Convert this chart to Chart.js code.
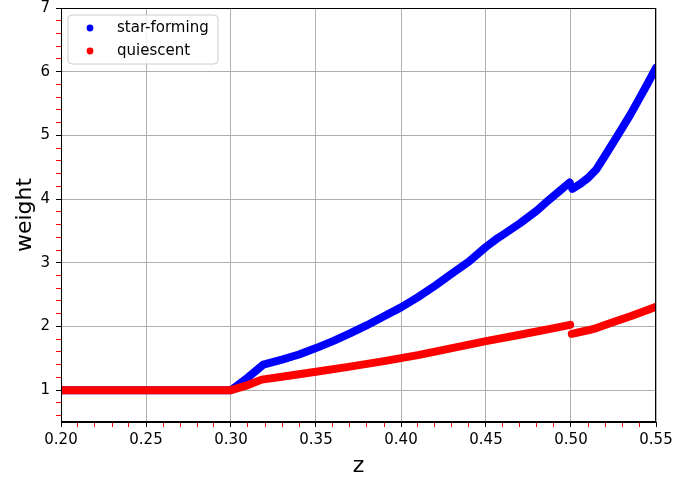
<!DOCTYPE html>
<html>
<head>
<meta charset="utf-8">
<script src="https://cdn.jsdelivr.net/npm/chart.js@4.4.1/dist/chart.umd.min.js"></script>
<style>
  html, body { margin: 0; padding: 0; background: #fff; }
  #wrap { width: 673px; height: 479px; }
</style>
</head>
<body>
<div id="wrap"><canvas id="weights" width="673" height="479"></canvas></div>
<script>
// valeurs
const zStar = [0.20, 0.25, 0.30, 0.31, 0.319, 0.33, 0.34, 0.35, 0.36, 0.37, 0.38, 0.39, 0.40, 0.41, 0.42, 0.43, 0.44, 0.45, 0.456, 0.46, 0.47, 0.48, 0.4876, 0.4992, 0.50, 0.5008, 0.505, 0.51, 0.515, 0.52, 0.527, 0.535, 0.54, 0.545, 0.55];
const wStar = [1.0, 1.0, 1.0, 1.2, 1.40, 1.48, 1.56, 1.66, 1.77, 1.89, 2.02, 2.16, 2.30, 2.46, 2.64, 2.83, 3.02, 3.25, 3.37, 3.44, 3.62, 3.82, 4.0, 4.26, null, 4.16, 4.23, 4.33, 4.47, 4.68, 4.98, 5.33, 5.57, 5.81, 6.06];

const zQuiet = [0.20, 0.25, 0.30, 0.31, 0.318, 0.33, 0.35, 0.37, 0.39, 0.41, 0.43, 0.45, 0.47, 0.49, 0.4995, 0.50, 0.5005, 0.51, 0.515, 0.525, 0.535, 0.545, 0.55];
const wQuiet = [1.0, 1.0, 1.0, 1.08, 1.165, 1.21, 1.29, 1.37, 1.455, 1.55, 1.66, 1.77, 1.87, 1.975, 2.025, null, 1.885, 1.94, 1.975, 2.07, 2.16, 2.26, 2.31];

const xTicks = []; // 0.20 ... 0.55 pas 0.01
for (let i = 20; i <= 55; i++) xTicks.push(i / 100);
const yTicks = []; // 0.6 ... 7.0 pas 0.2
for (let i = 3; i <= 35; i++) yTicks.push(i / 5);

const FONT = 'DejaVu Sans';

function pts(zs, ws) {
    return zs.map((z, i) => ({ x: z, y: ws[i] }));
}

function isMajor(v, step) {
    const r = v / step;
    return Math.abs(r - Math.round(r)) < 1e-6;
}

// cadre noir autour des axes
const frame = {
    id: 'frame',
    afterDatasetsDraw(chart) {
        const c = chart.ctx, a = chart.chartArea;
        c.save();
        c.strokeStyle = '#000';
        c.lineWidth = 1;
        c.strokeRect(Math.round(a.left) + 0.5, Math.round(a.top) + 0.5,
            Math.round(a.right - a.left) - 1, Math.round(a.bottom - a.top) - 1);
        c.restore();
    }
};

// légende dans le coin haut gauche
const legendBox = {
    id: 'legendBox',
    afterDraw(chart) {
        const c = chart.ctx, a = chart.chartArea;
        const x = a.left + 7, y = a.top + 7, w = 150, h = 49, r = 4;
        c.save();
        c.beginPath();
        c.moveTo(x + r, y);
        c.arcTo(x + w, y, x + w, y + h, r);
        c.arcTo(x + w, y + h, x, y + h, r);
        c.arcTo(x, y + h, x, y, r);
        c.arcTo(x, y, x + w, y, r);
        c.closePath();
        c.fillStyle = 'rgba(255,255,255,0.8)';
        c.fill();
        c.strokeStyle = '#cccccc';
        c.lineWidth = 1;
        c.stroke();
        c.font = '15px "' + FONT + '"';
        c.textBaseline = 'middle';
        chart.data.datasets.forEach((ds, i) => {
            const cy = y + 13 + i * 23;
            c.fillStyle = ds.borderColor;
            c.beginPath();
            c.arc(x + 22, cy, 3.4, 0, Math.PI * 2);
            c.fill();
            c.fillStyle = '#000';
            c.fillText(ds.label, x + 49, cy);
        });
        c.restore();
    }
};

const ctx = document.getElementById('weights').getContext('2d');
new Chart(ctx, {
    type: 'line',
    data: {
        datasets: [
            {
                label: 'star-forming',
                data: pts(zStar, wStar),
                borderColor: '#0000ff',
                order: 1
            },
            {
                label: 'quiescent',
                data: pts(zQuiet, wQuiet),
                borderColor: '#ff0000',
                order: 0
            }
        ]
    },
    options: {
        responsive: false,
        animation: false,
        devicePixelRatio: 1,
        layout: { padding: { top: 8, right: 17, bottom: 0, left: 0 } },
        elements: {
            line: { borderWidth: 8, tension: 0, borderCapStyle: 'round', borderJoinStyle: 'round', fill: false },
            point: { radius: 0, hoverRadius: 0 }
        },
        datasets: { line: { spanGaps: false, clip: 0 } },
        plugins: {
            legend: { display: false },
            tooltip: { enabled: false }
        },
        scales: {
            x: {
                type: 'linear',
                min: 0.20,
                max: 0.55,
                afterBuildTicks: s => { s.ticks = xTicks.map(v => ({ value: v })); },
                afterFit: s => {
                    s.height = 57;
                    s.paddingLeft = 0; s.paddingRight = 0;
                },
                grid: {
                    color: c => isMajor(c.tick.value, 0.05) ? '#b0b0b0' : 'rgba(0,0,0,0)',
                    tickColor: c => isMajor(c.tick.value, 0.05) ? '#000' : '#ff0000',
                    lineWidth: 1,
                    tickWidth: 1,
                    tickLength: 5
                },
                border: { display: true, color: '#000', width: 1 },
                ticks: {
                    autoSkip: false,
                    maxRotation: 0,
                    padding: 4,
                    color: '#000',
                    font: { family: FONT, size: 15 },
                    callback: v => isMajor(v, 0.05) ? v.toFixed(2) : ''
                },
                title: {
                    display: true,
                    text: 'z',
                    color: '#000',
                    font: { family: FONT, size: 22 },
                    padding: { top: 3, bottom: 0 }
                }
            },
            y: {
                type: 'linear',
                min: 0.5,
                max: 7,
                afterBuildTicks: s => { s.ticks = yTicks.map(v => ({ value: v })); },
                afterFit: s => {
                    s.width = 61;
                    s.paddingTop = 0; s.paddingBottom = 0;
                },
                grid: {
                    color: c => isMajor(c.tick.value, 1) ? '#b0b0b0' : 'rgba(0,0,0,0)',
                    tickColor: c => isMajor(c.tick.value, 1) ? '#000' : '#ff0000',
                    lineWidth: 1,
                    tickWidth: 1,
                    tickLength: 5
                },
                border: { display: true, color: '#000', width: 1 },
                ticks: {
                    autoSkip: false,
                    padding: 6,
                    color: '#000',
                    font: { family: FONT, size: 15 },
                    callback: v => isMajor(v, 1) ? String(Math.round(v)) : ''
                },
                title: {
                    display: true,
                    text: 'weight',
                    color: '#000',
                    font: { family: FONT, size: 22 },
                    padding: { top: 12, bottom: 0 }
                }
            }
        }
    },
    plugins: [frame, legendBox]
});
</script>
</body>
</html>
